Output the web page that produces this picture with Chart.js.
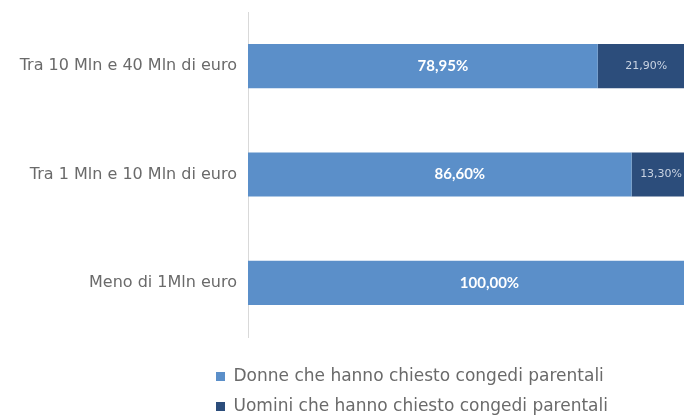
<!DOCTYPE html>
<html lang="it">
<head>
<meta charset="utf-8">
<title>Congedi parentali per fascia di fatturato</title>
<script src="https://cdn.jsdelivr.net/npm/chart.js@4/dist/chart.umd.min.js"></script>
<style>
  html, body { margin: 0; padding: 0; background: #fff; overflow: hidden; }
  #wrap { width: 691px; height: 416px; }
</style>
</head>
<body>
<div id="wrap"><canvas id="congediChart"></canvas></div>
<script>
const fasce = ["Tra 10 Mln e 40 Mln di euro", "Tra 1 Mln e 10 Mln di euro", "Meno di 1Mln euro"];
const donne = [78.95, 86.6, 100.0];
const uomini = [21.9, 13.3, null];
const serie = ["Donne che hanno chiesto congedi parentali", "Uomini che hanno chiesto congedi parentali"];
const colori = ["#5b8fc9", "#2c4d7b"];

const FONT = "'DejaVu Sans', sans-serif";
const GRIGIO = "#6a6a6a";

// legend rows start just left of the bars, not at the canvas edge
const LEGENDA_DX = 203;
const LEGENDA_DY = 9;
// the women's labels sit a little right of the segment middle
const SPOSTA_DONNE = 20;

function percento(v) {
  return v.toFixed(2).replace(".", ",") + "%";
}

// value labels on each bar segment
const etichette = {
  id: "etichette",
  afterDatasetsDraw(chart) {
    const ctx = chart.ctx;
    ctx.save();
    ctx.textAlign = "center";
    ctx.textBaseline = "middle";
    chart.data.datasets.forEach((ds, i) => {
      const meta = chart.getDatasetMeta(i);
      ctx.font = i === 0 ? "bold 15px Lato, sans-serif" : "11px " + FONT;
      ctx.fillStyle = i === 0 ? "#ffffff" : "#c9d3e2";
      const dx = i === 0 ? SPOSTA_DONNE : 0;
      meta.data.forEach((bar, j) => {
        const v = ds.data[j];
        if (v == null) return;
        ctx.fillText(percento(v), (bar.x + bar.base) / 2 + dx, bar.y);
      });
    });
    ctx.restore();
  }
};

const spostaLegenda = {
  id: "spostaLegenda",
  afterLayout(chart) {
    const lg = chart.legend;
    lg.left += LEGENDA_DX;
    lg.right += LEGENDA_DX;
    lg.top += LEGENDA_DY;
    lg.bottom += LEGENDA_DY;
  }
};

const data = {
  labels: fasce,
  datasets: [
    { label: serie[0], data: donne, backgroundColor: colori[0] },
    { label: serie[1], data: uomini, backgroundColor: colori[1] },
  ],
};

const config = {
  type: "bar",
  data: data,
  options: {
    indexAxis: "y",
    responsive: true,
    maintainAspectRatio: false,
    animation: false,
    layout: { padding: { top: 12 } },
    datasets: {
      bar: { categoryPercentage: 0.8, barPercentage: 0.51 },
    },
    scales: {
      x: {
        stacked: true,
        min: 0,
        max: 100,
        ticks: { display: false },
        grid: { display: false, drawTicks: false },
        border: { display: false },
        afterFit: (s) => { s.height = 9; },
      },
      y: {
        stacked: true,
        ticks: { color: GRIGIO, font: { family: FONT, size: 16 }, padding: 11 },
        grid: { display: false, drawTicks: false },
        border: { display: true, color: "#d9d9d9", width: 1 },
        afterFit: (s) => {
          s.width = 248;
          s.paddingTop = 0;
          s.paddingBottom = 0;
        },
      },
    },
    plugins: {
      tooltip: { enabled: false },
      legend: {
        position: "bottom",
        align: "start",
        labels: {
          color: GRIGIO,
          font: { family: FONT, size: 17 },
          boxWidth: 9,
          boxHeight: 9,
          padding: 13,
        },
      },
    },
  },
  plugins: [etichette, spostaLegenda],
};

const congediChart = new Chart(document.getElementById("congediChart"), config);
</script>
</body>
</html>
